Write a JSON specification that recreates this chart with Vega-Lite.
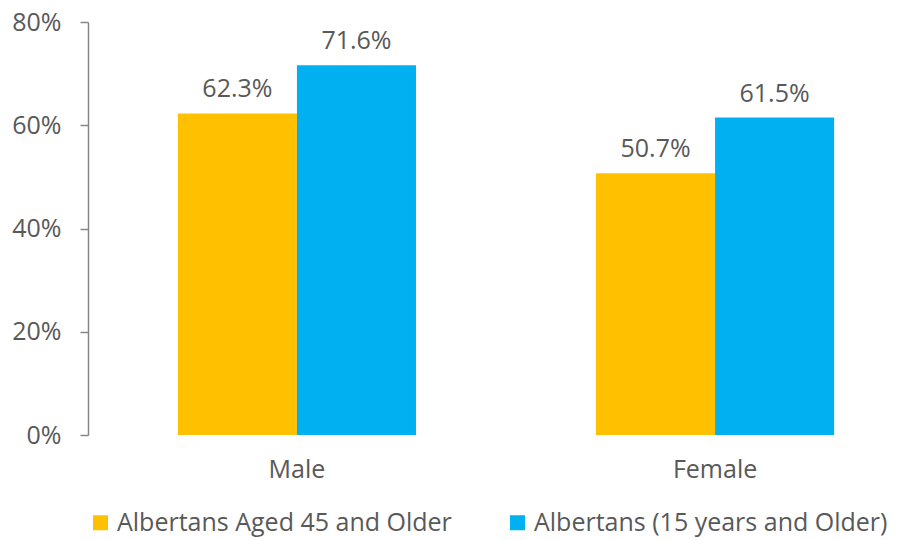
{
  "$schema": "https://vega.github.io/schema/vega-lite/v6.json",
  "autosize": {"type": "none"},
  "width": 820,
  "height": 413,
  "padding": {"left": 88, "top": 22, "right": 0, "bottom": 105},
  "background": "white",
  "config": {
    "view": {"stroke": null},
    "font": "Open Sans",
    "text": {"font": "Open Sans"}
  },
  "data": {
    "values": [
      {"sex": "Male", "group": "Albertans Aged 45 and Older", "value": 0.623},
      {"sex": "Male", "group": "Albertans (15 years and Older)", "value": 0.716},
      {"sex": "Female", "group": "Albertans Aged 45 and Older", "value": 0.507},
      {"sex": "Female", "group": "Albertans (15 years and Older)", "value": 0.615}
    ]
  },
  "encoding": {
    "x": {
      "field": "sex", "type": "nominal", "sort": ["Male", "Female"],
      "scale": {"range": [0, 836], "paddingInner": 0.4306, "paddingOuter": 0.215},
      "axis": {"title": null, "labelAngle": 0, "domain": false, "ticks": false, "labelFontSize": 25, "labelColor": "#595959", "labelPadding": 22, "labelFont": "Open Sans"}
    },
    "xOffset": {
      "field": "group", "type": "nominal",
      "sort": ["Albertans Aged 45 and Older", "Albertans (15 years and Older)"],
      "scale": {"paddingInner": 0, "paddingOuter": 0}
    },
    "y": {
      "field": "value", "type": "quantitative",
      "scale": {"domain": [0, 0.8], "nice": false},
      "axis": {"title": null, "format": ".0%", "values": [0, 0.2, 0.4, 0.6, 0.8], "grid": false, "domainColor": "#868686", "domainWidth": 1.5, "tickColor": "#868686", "tickWidth": 1.5, "tickSize": 8, "labelFontSize": 25, "labelColor": "#595959", "labelPadding": 19, "labelFont": "Open Sans"}
    }
  },
  "layer": [
    {
      "mark": {"type": "bar"},
      "encoding": {
        "color": {
          "field": "group", "type": "nominal",
          "sort": ["Albertans Aged 45 and Older", "Albertans (15 years and Older)"],
          "scale": {"range": ["#FFC000", "#00B0F0"]},
          "legend": {
            "title": null, "orient": "none", "direction": "horizontal", "columns": 2,
            "legendX": 0, "legendY": 488,
            "symbolType": "square", "symbolSize": 225, "symbolStrokeWidth": 0,
            "labelFontSize": 25, "labelColor": "#595959", "labelFont": "Open Sans",
            "labelOffset": 4, "columnPadding": 53, "labelLimit": 600
          }
        }
      }
    },
    {
      "mark": {"type": "text", "baseline": "alphabetic", "dy": -16, "fontSize": 25, "color": "#595959", "font": "Open Sans"},
      "encoding": {
        "text": {"field": "value", "type": "quantitative", "format": ".1%"}
      }
    }
  ]
}
